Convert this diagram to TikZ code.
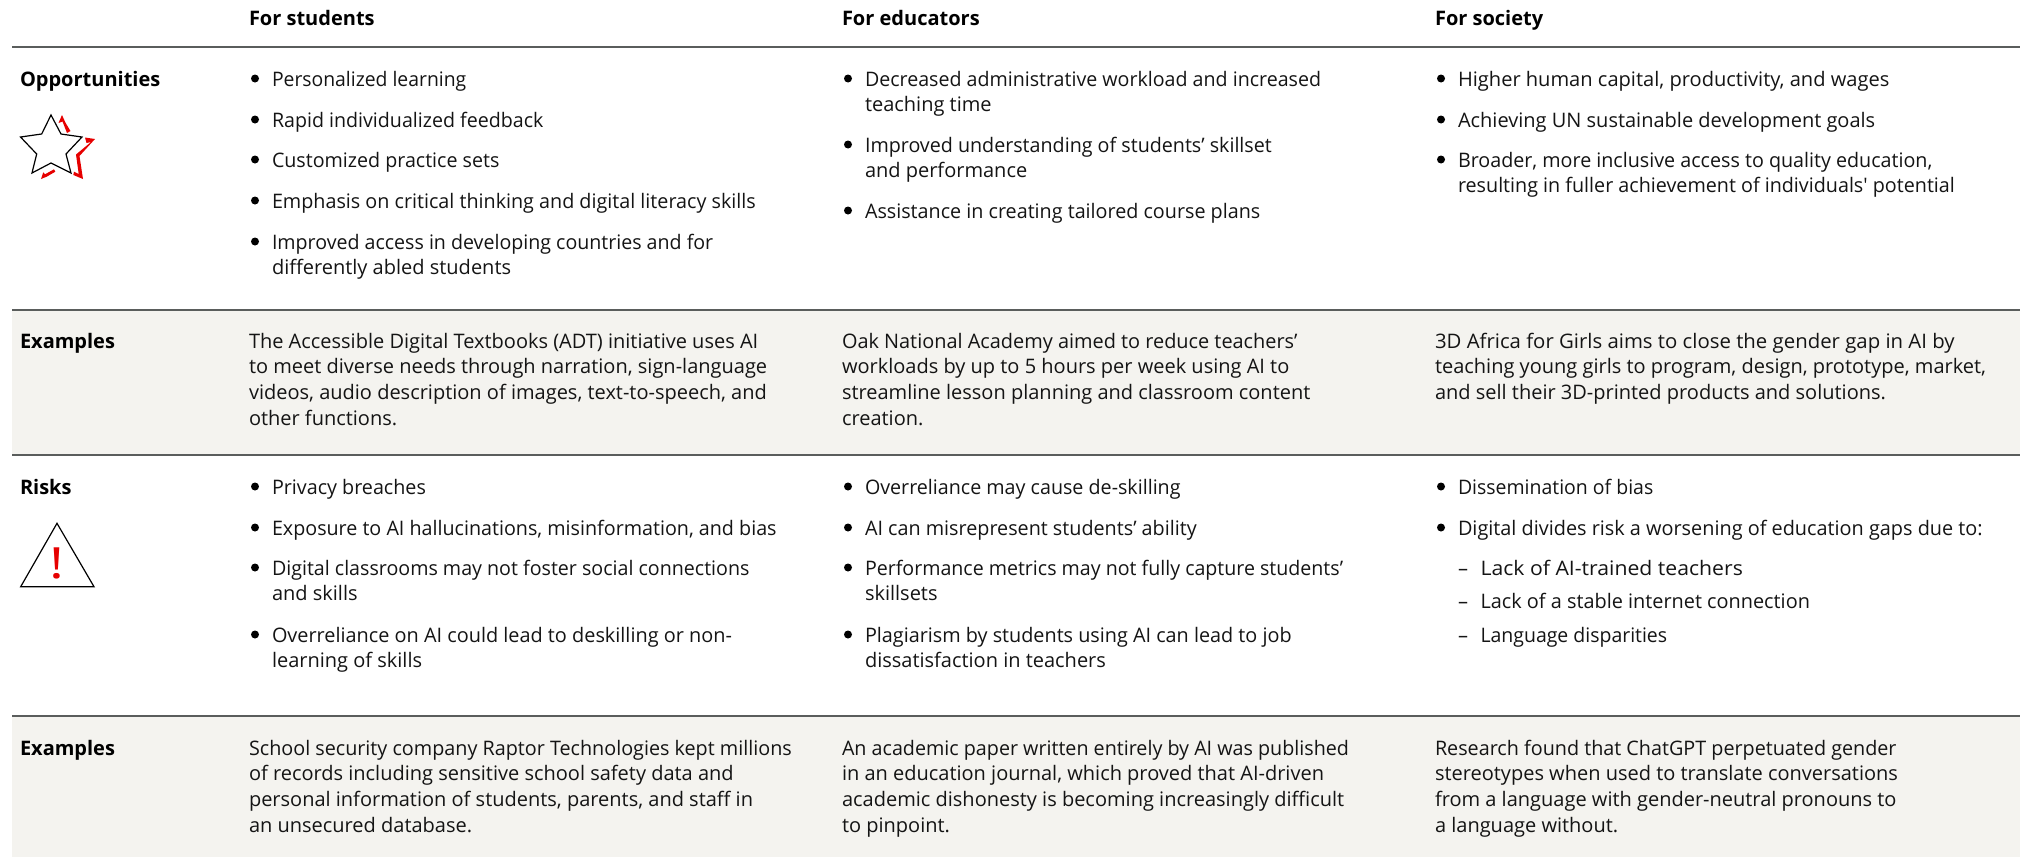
\documentclass[tikz,border=0pt]{standalone}
\usepackage{fontspec}
\setmainfont{Open Sans}
\newfontfamily\rawfont{Open Sans}
\definecolor{bandgrey}{HTML}{F4F3EF}
\definecolor{rulegrey}{HTML}{5A5D5C}
\definecolor{iconred}{HTML}{E60000}
\tikzset{
  txt/.style={inner sep=0pt,outer sep=0pt,anchor=north west,align=left,font=\fontsize{20}{25.7}\selectfont,text=black!92},
  hdr/.style={txt,font=\fontsize{20}{25.7}\selectfont\bfseries,text=black},
  dashmark/.style={inner sep=0pt,outer sep=0pt,anchor=base,font=\fontsize{20}{25.7}\selectfont,text=black!92},
  dotmark/.style={circle,fill=black,draw=none,inner sep=0pt,outer sep=0pt,minimum size=8pt},
  rowline/.style={draw=rulegrey,line width=1.3pt},
  band/.style={fill=bandgrey,draw=none},
  icon/.style={draw=black,line width=1.2pt,line join=miter,fill=none},
  iconaccent/.style={draw=none,fill=iconred}
}
% [stretch] name x baseline text
\newcommand{\para}[5][0.988]{\node[txt] (#2) at (#3,#4-16) {\addfontfeature{FakeStretch=#1}\rule{0pt}{16pt}#5};}
\newcommand{\head}[4]{\node[hdr] (#1) at (#2,#3-16) {\rule{0pt}{16pt}#4};}
\newcommand{\bul}[5][0.985]{\node[dotmark] (#2b) at (#3+6,#4-7.5) {};\node[txt] (#2) at (#3+23,#4-16) {\addfontfeature{FakeStretch=#1}\rule{0pt}{16pt}#5};}
\newcommand{\dsh}[5][0.985]{\node[dashmark] (#2b) at (#3+28,#4) {–};\node[txt] (#2) at (#3+45.5,#4-16) {\addfontfeature{FakeStretch=#1}\rule{0pt}{16pt}#5};}
\begin{document}
\begin{tikzpicture}[x=1pt,y=-1pt]
\useasboundingbox (0,0) rectangle (2020,857);
\fill[band] (12,310) rectangle (2020,455);
\fill[band] (12,716) rectangle (2020,857);
\coordinate (a0) at (12,47); \coordinate (a1) at (2020,47);
\coordinate (b0) at (12,310); \coordinate (b1) at (2020,310);
\coordinate (c0) at (12,455); \coordinate (c1) at (2020,455);
\coordinate (d0) at (12,716); \coordinate (d1) at (2020,716);
\draw[rowline] (a0)--(a1);
\draw[rowline] (b0)--(b1);
\draw[rowline] (c0)--(c1);
\draw[rowline] (d0)--(d1);
\head{hs}{249}{25}{For students}
\head{he}{842}{25}{For educators}
\head{hc}{1435}{25}{For society}
\head{lo}{20}{86}{Opportunities}
\head{lx}{20}{348}{Examples}
\head{lr}{20}{494}{Risks}
\head{ly}{20}{755}{Examples}
% star icon
\draw[icon] (51,115)--(61,134)--(82,137)--(66,154)--(71,173)--(51,163)--(32,173)--(36.7,154)--(20.5,137)--(41.7,134)--cycle;
\fill[iconaccent] (62,115)--(65.5,122.7)--(70.5,131)--(67,133)--(62.5,121.5)--(58.5,123)--cycle;
\fill[iconaccent] (85,137.5)--(95,139)--(79.5,156)--(83,179)--(73.3,175)--(74,171.7)--(78.7,174)--(76,154.5)--(91,142)--(86.5,143)--cycle;
\fill[iconaccent] (41,179)--(43.3,172.3)--(45,174.3)--(54,169.3)--(55.3,171.7)--(46.7,176.7)--cycle;
% warning icon
\draw[icon] (57,523.3)--(94,586.7)--(20.7,586.7)--cycle;
\node[inner sep=0pt,font=\fontsize{43}{43}\selectfont\addfontfeature{FakeStretch=1.3},text=iconred,anchor=base] (bang) at (57,578) {!};
% students
\bul[0.968]{s1}{249}{86}{Personalized learning}
\bul[0.981]{s2}{249}{127}{Rapid individualized feedback}
\bul[0.983]{s3}{249}{167}{Customized practice sets}
\bul[0.987]{s4}{249}{208}{Emphasis on critical thinking and digital literacy skills}
\bul[0.98]{s5}{249}{249}{Improved access in developing countries and for\\differently abled students}
% educators
\bul[0.981]{e1}{842}{86}{Decreased administrative workload and increased\\teaching time}
\bul[0.984]{e2}{842}{152}{Improved understanding of students’ skillset\\and performance}
\bul[0.987]{e3}{842}{218}{Assistance in creating tailored course plans}
% society
\bul[1.004]{c1}{1435}{86}{Higher human capital, productivity, and wages}
\bul[1.0]{c2}{1435}{127}{Achieving UN sustainable development goals}
\bul[0.985]{c3}{1435}{167}{Broader, more inclusive access to quality education,\\\addfontfeature{FakeStretch=0.986}resulting in fuller achievement of individuals{\rawfont\addfontfeature{FakeStretch=0.986}'} potential}
% examples 1
\para[1.0]{x1}{249}{348}{The Accessible Digital Textbooks (ADT) initiative uses AI\\to meet diverse needs through narration, sign-language\\videos, audio description of images, text-to-speech, and\\other functions.}
\para[0.995]{x2}{842}{348}{Oak National Academy aimed to reduce teachers’\\workloads by up to 5 hours per week using AI to\\streamline lesson planning and classroom content\\creation.}
\para[1.018]{x3}{1435}{348}{3D Africa for Girls aims to close the gender gap in AI by\\teaching young girls to program, design, prototype, market,\\and sell their 3D-printed products and solutions.}
% risks students
\bul[0.986]{r1}{249}{494}{Privacy breaches}
\bul[0.985]{r2}{249}{535}{Exposure to AI hallucinations, misinformation, and bias}
\bul[0.982]{r3}{249}{575}{Digital classrooms may not foster social connections\\and skills}
\bul[0.994]{r4}{249}{642}{Overreliance on AI could lead to deskilling or non-\\learning of skills}
% risks educators
\bul[0.984]{t1}{842}{494}{Overreliance may cause de-skilling}
\bul[0.988]{t2}{842}{535}{AI can misrepresent students’ ability}
\bul[0.98]{t3}{842}{575}{Performance metrics may not fully capture students’\\skillsets}
\bul[0.99]{t4}{842}{642}{Plagiarism by students using AI can lead to job\\dissatisfaction in teachers}
% risks society
\bul[0.973]{u1}{1435}{494}{Dissemination of bias}
\bul[0.993]{u2}{1435}{535}{Digital divides risk a worsening of education gaps due to:}
\dsh[1.06]{u3}{1435}{575}{Lack of AI-trained teachers}
\dsh[0.994]{u4}{1435}{608}{Lack of a stable internet connection}
\dsh[0.973]{u5}{1435}{642}{Language disparities}
% examples 2
\para[0.988]{y1}{249}{755}{School security company Raptor Technologies kept millions\\of records including sensitive school safety data and\\personal information of students, parents, and staff in\\an unsecured database.}
\para[0.985]{y2}{842}{755}{An academic paper written entirely by AI was published\\in an education journal, which proved that AI-driven\\academic dishonesty is becoming increasingly difficult\\to pinpoint.}
\para[0.988]{y3}{1435}{755}{Research found that ChatGPT perpetuated gender\\stereotypes when used to translate conversations\\from a language with gender-neutral pronouns to\\a language without.}
\end{tikzpicture}
\end{document}
